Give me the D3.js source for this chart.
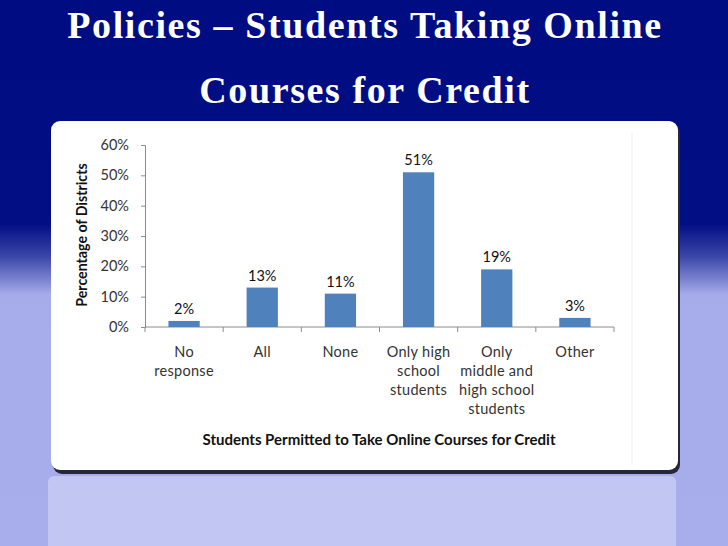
<!DOCTYPE html>
<html>
<head>
<meta charset="UTF-8">
<title>Policies - Students Taking Online Courses for Credit</title>
<style>
  body { margin: 0; padding: 0; overflow: hidden; }
  text { font-family: Lato, "Open Sans", sans-serif; }
  .title { font-family: "Liberation Serif", "Times New Roman", serif; font-weight: bold; fill: white; font-size: 38px; text-anchor: middle; letter-spacing: 1.6px; }
  .axis text { font-size: 14.5px; fill: #333; }
  .axis path, .axis line { stroke: #8c8c8c; }
</style>
</head>
<body>
<svg id="chart" width="728" height="546"></svg>
<script src="https://cdn.jsdelivr.net/npm/d3@7"></script>
<script>
var categories = ["No response", "All", "None", "Only high school students", "Only middle and high school students", "Other"];
var categoryLines = [["No", "response"], ["All"], ["None"], ["Only high", "school", "students"], ["Only", "middle and", "high school", "students"], ["Other"]];
var values = [2, 13, 11, 51, 19, 3];
var yTicks = [0, 10, 20, 30, 40, 50, 60];
var titleLines = ["Policies \u2013 Students Taking Online", "Courses for Credit"];

var svg = d3.select("#chart");
var defs = svg.append("defs");

// slide background
var bg = defs.append("linearGradient").attr("id", "bg").attr("x1", 0).attr("y1", 0).attr("x2", 0).attr("y2", 1);
bg.append("stop").attr("offset", "0%").attr("stop-color", "#000c82");
bg.append("stop").attr("offset", "41%").attr("stop-color", "#020e84");
bg.append("stop").attr("offset", "47%").attr("stop-color", "#3b46a8");
bg.append("stop").attr("offset", "54%").attr("stop-color", "#a6acea");
bg.append("stop").attr("offset", "100%").attr("stop-color", "#a8aeec");
svg.append("rect").attr("width", 728).attr("height", 546).attr("fill", "url(#bg)");

// reflection panel under the card
svg.append("rect").attr("x", 48).attr("y", 476).attr("width", 628).attr("height", 80)
  .attr("rx", 6).attr("fill", "#c2c6f2");

// card with shadow
svg.append("rect").attr("x", 53).attr("y", 124).attr("width", 627).attr("height", 350)
  .attr("rx", 9).attr("fill", "#26283a");
svg.append("rect").attr("x", 51).attr("y", 121).attr("width", 627).attr("height", 349)
  .attr("rx", 9).attr("fill", "#ffffff");
svg.append("line").attr("x1", 632).attr("x2", 632).attr("y1", 133).attr("y2", 465)
  .attr("stroke", "#ececec");

// title
svg.selectAll("text.title").data(titleLines).enter().append("text")
  .attr("class", "title")
  .attr("x", 365)
  .attr("y", (d, i) => 38 + i * 65)
  .text(d => d);

// chart
var margin = { left: 145, top: 145, right: 614, bottom: 327 };
var x = d3.scaleBand().domain(categories).range([margin.left, margin.right]).paddingInner(0.6).paddingOuter(0.3);
var xTicks = d3.scaleLinear().domain([0, categories.length]).range([margin.left, margin.right]);
var y = d3.scaleLinear().domain([0, 60]).range([margin.bottom, margin.top]);

var yAxis = svg.append("g").attr("class", "axis")
  .attr("transform", "translate(" + margin.left + ",0)")
  .call(d3.axisLeft(y).tickValues(yTicks).tickSize(4).tickPadding(12).tickFormat(d => d + "%"));

var xAxis = svg.append("g").attr("class", "axis")
  .attr("transform", "translate(0," + margin.bottom + ")");
xAxis.append("line").attr("x1", margin.left).attr("x2", margin.right).attr("stroke", "#8c8c8c");
xAxis.selectAll("line.tick").data(d3.range(categories.length + 1)).enter().append("line")
  .attr("x1", d => xTicks(d)).attr("x2", d => xTicks(d))
  .attr("y1", 0).attr("y2", 5).attr("stroke", "#8c8c8c");

var labels = xAxis.selectAll("text.cat").data(categories).enter().append("text")
  .attr("class", "cat")
  .attr("text-anchor", "middle")
  .attr("font-size", 14.5)
  .attr("letter-spacing", "0.3px")
  .attr("fill", "#333");
labels.selectAll("tspan").data((d, i) => categoryLines[i].map(t => ({ t: t, c: d }))).enter().append("tspan")
  .attr("x", d => x(d.c) + x.bandwidth() / 2)
  .attr("y", (d, j) => 30 + j * 19)
  .text(d => d.t);

svg.selectAll("rect.bar").data(values).enter().append("rect")
  .attr("class", "bar")
  .attr("x", (d, i) => x(categories[i]))
  .attr("width", x.bandwidth())
  .attr("y", d => y(d))
  .attr("height", d => y(0) - y(d))
  .attr("fill", "#4f81bd");

svg.selectAll("text.value").data(values).enter().append("text")
  .attr("class", "value")
  .attr("x", (d, i) => x(categories[i]) + x.bandwidth() / 2)
  .attr("y", d => y(d) - 7)
  .attr("text-anchor", "middle")
  .attr("font-size", 14.5)
  .attr("fill", "#111")
  .text(d => d + "%");

svg.append("text")
  .attr("transform", "translate(87," + ((margin.top + margin.bottom) / 2 - 1) + ") rotate(-90)")
  .attr("text-anchor", "middle")
  .attr("font-size", 14.2)
  .attr("font-weight", "bold")
  .attr("fill", "#111")
  .text("Percentage of Districts");

svg.append("text")
  .attr("x", 379).attr("y", 445)
  .attr("text-anchor", "middle")
  .attr("font-size", 15)
  .attr("font-weight", "bold")
  .attr("fill", "#111")
  .text("Students Permitted to Take Online Courses for Credit");
</script>
</body>
</html>
